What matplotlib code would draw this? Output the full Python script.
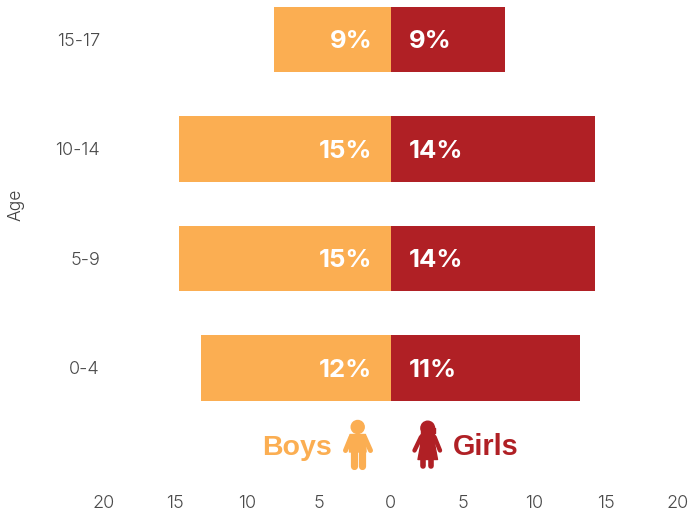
import matplotlib
matplotlib.use("Agg")
import matplotlib.pyplot as plt
from matplotlib.lines import Line2D
from matplotlib.patches import Circle, Polygon
from matplotlib.transforms import Affine2D

ages = ["0-4", "5-9", "10-14", "15-17"]
boys = [13.2, 14.75, 14.75, 8.1]
girls = [13.2, 14.25, 14.25, 7.95]
boys_labels = ["12%", "15%", "15%", "9%"]
girls_labels = ["11%", "14%", "14%", "9%"]
xticks = [-20, -15, -10, -5, 0, 5, 10, 15, 20]

ORANGE = "#FBAE52"
RED = "#B02025"
GREY = "#4A4A4A"
W, H = 688, 511

plt.rcParams["font.family"] = ["Inter", "DejaVu Sans"]

fig = plt.figure(figsize=(W / 100, H / 100), dpi=100)
ax = fig.add_axes([103.5 / W, 1 - 490 / H, 574.5 / W, 490 / H])
pos = list(range(len(ages)))

ax.barh(pos, [-v for v in boys], height=0.595, color=ORANGE)
ax.barh(pos, girls, height=0.595, color=RED)

for y, lb, lg in zip(pos, boys_labels, girls_labels):
    ax.annotate(lb, (0, y), xytext=(-18.5, 0), textcoords="offset pixels", ha="right",
                va="center_baseline", color="white", fontsize=18.5, fontweight="bold")
    ax.annotate(lg, (0, y), xytext=(18.5, 0), textcoords="offset pixels", ha="left",
                va="center_baseline", color="white", fontsize=18.5, fontweight="bold")

ax.set_xlim(-20, 20)
ax.set_ylim(-1.114, 3.36)
ax.set_xticks(xticks)
ax.set_xticklabels([str(abs(v)) for v in xticks])
ax.set_yticks(pos)
ax.set_yticklabels(ages)
ax.tick_params(length=0, labelsize=13, labelcolor=GREY)
ax.tick_params(axis="y", pad=2.5)
ax.tick_params(axis="x", pad=3.5)
for lab in ax.get_xticklabels() + ax.get_yticklabels():
    lab.set_fontweight(300)
for s in ax.spines.values():
    s.set_visible(False)

# everything below is placed in reference pixels, y going down
px = Affine2D().scale(1 / W, -1 / H).translate(0, 1) + fig.transFigure

fig.text(16.5, 205, "Age", transform=px, rotation=90, ha="center", va="center",
         fontsize=12.5, color="#404040", fontweight=300)
fig.text(331.5, 455, "Boys", transform=px, ha="right", va="baseline", color=ORANGE,
         fontsize=20.5, fontweight="bold", family="Liberation Sans")
fig.text(453, 455, "Girls", transform=px, ha="left", va="baseline", color=RED,
         fontsize=20.8, fontweight="bold", family="Liberation Sans")


def stroke(xs, ys, color, width):
    fig.add_artist(Line2D(xs, ys, transform=px, color=color, lw=width * 0.72,
                          solid_capstyle="round", solid_joinstyle="round"))


def blob(points, color):
    fig.add_artist(Polygon(points, closed=True, transform=px, facecolor=color,
                           edgecolor=color, lw=1, joinstyle="round"))


# boy icon
fig.add_artist(Circle((357.7, 427), 6.5, transform=px, color=ORANGE))
blob([(350, 434.5), (365.5, 434.5), (366, 452), (349.5, 452)], ORANGE)
stroke([351, 345.5], [437, 450.5], ORANGE, 5)
stroke([364.5, 370.5], [437, 450.5], ORANGE, 5)
stroke([353.6, 353.6], [450, 466], ORANGE, 7.2)
stroke([361.8, 361.8], [450, 466], ORANGE, 7.2)

# girl icon
fig.add_artist(Circle((427.7, 428), 6.8, transform=px, color=RED))
blob([(421, 428), (434.5, 428), (434.5, 433.5), (421, 433.5)], RED)
blob([(421, 434.5), (434.5, 434.5), (435, 446), (437.5, 459.5), (418, 459.5), (420.5, 446)], RED)
stroke([421, 414.5], [437, 450.5], RED, 4.4)
stroke([434.5, 440], [437, 450.5], RED, 4.4)
stroke([422.7, 422.7], [458, 466.5], RED, 5.6)
stroke([431, 431], [458, 466.5], RED, 5.6)

fig.savefig("out.png", dpi=100)
